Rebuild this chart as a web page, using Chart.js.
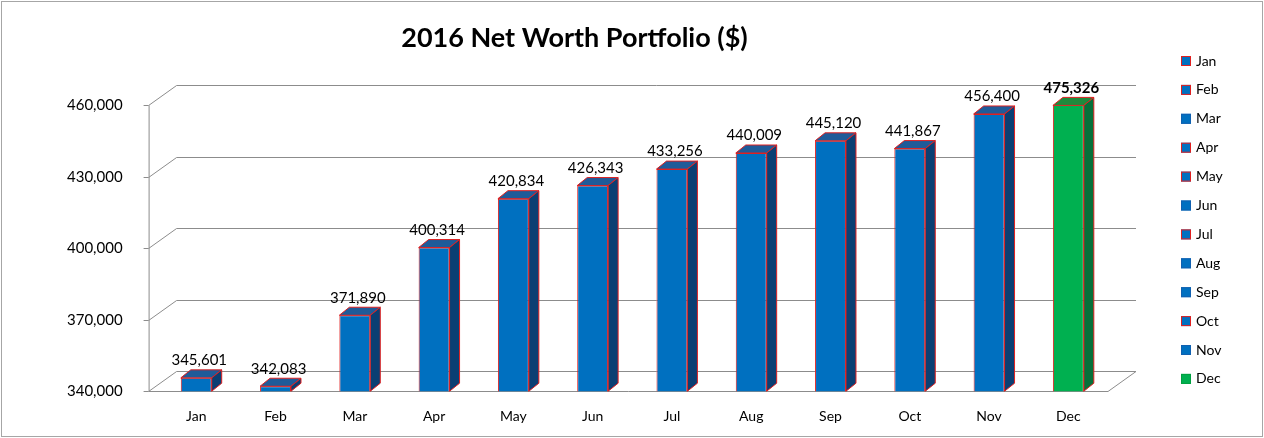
<!DOCTYPE html>
<html><head><meta charset="utf-8">
<script src="https://cdn.jsdelivr.net/npm/chart.js@4"></script>
<style>body{margin:0;background:#fff}#wrap{width:1264px;height:438px}</style>
</head><body><div id="wrap"><canvas id="myChart"></canvas></div>
<script>
var months = ['Jan','Feb','Mar','Apr','May','Jun','Jul','Aug','Sep','Oct','Nov','Dec'];
var netWorth = [345601,342083,371890,400314,420834,426343,433256,440009,445120,441867,456400,475326];
var yTicks = [340000,370000,400000,430000,460000];
var legendEdges = ['#e02020','#e02020','#1060b0','#e02020','#e02020','#1060b0','#e02020','#1060b0','#1060b0','#e02020','#1060b0','#00a040'];

var FONT = 'Lato, "Open Sans", sans-serif';
var DX = 10, DY = -8, BX = 28, BY = -20, AXOFF = 8;
function fill(i){ return i === 11 ? '#00b050' : '#0070c0'; }
function top3(i){ return i === 11 ? '#1e8a3c' : '#1f5b99'; }
function side3(i){ return i === 11 ? '#06703a' : '#0b3f73'; }

var threeD = {
    id: 'threeD',
    beforeDraw: function (chart) {
        var c = chart.ctx, a = chart.chartArea, y = chart.scales.y;
        var L = a.left - AXOFF;
        c.save();
        c.strokeStyle = '#a6a6a6'; c.lineWidth = 1;
        c.strokeRect(1.5, 1.5, chart.width - 3, chart.height - 3);
        c.strokeStyle = '#8c8c8c';
        yTicks.forEach(function (v) {
            var py = Math.round(y.getPixelForValue(v)) + 0.5;
            c.beginPath();
            c.moveTo(L, py); c.lineTo(L + BX, py + BY);
            c.lineTo(a.right + BX, py + BY);
            c.stroke();
        });
        var b = Math.round(a.bottom) + 0.5;
        c.beginPath();
        c.moveTo(L, b); c.lineTo(a.right, b); c.lineTo(a.right + BX, b + BY);
        c.stroke();
        c.beginPath();
        c.moveTo(L + 0.5, a.top); c.lineTo(L + 0.5, a.bottom);
        yTicks.forEach(function (v) {
            var py = Math.round(y.getPixelForValue(v)) + 0.5;
            c.moveTo(L - 5, py); c.lineTo(L, py);
        });
        c.stroke();
        c.restore();
    },
    afterDatasetsDraw: function (chart) {
        var c = chart.ctx, a = chart.chartArea;
        var meta = chart.getDatasetMeta(0);
        c.save();
        c.lineWidth = 1; c.strokeStyle = '#e02020';
        meta.data.forEach(function (bar, i) {
            var l = bar.x - bar.width / 2, r = bar.x + bar.width / 2;
            var t = Math.max(bar.y, a.top), b = a.bottom;
            c.fillStyle = top3(i);
            c.beginPath();
            c.moveTo(l, t); c.lineTo(l + DX, t + DY); c.lineTo(r + DX, t + DY); c.lineTo(r, t); c.closePath();
            c.fill(); c.stroke();
            c.fillStyle = side3(i);
            c.beginPath();
            c.moveTo(r, t); c.lineTo(r + DX, t + DY); c.lineTo(r + DX, b + DY); c.lineTo(r, b); c.closePath();
            c.fill(); c.stroke();
            c.fillStyle = '#000';
            c.font = (i === 11 ? 'bold ' : '') + '15px ' + FONT;
            c.textAlign = 'center'; c.textBaseline = 'bottom';
            c.fillText(netWorth[i].toLocaleString('en-US'), bar.x + 3, t - 10);
        });
        c.font = '14px ' + FONT; c.textAlign = 'left'; c.textBaseline = 'middle';
        months.forEach(function (m, i) {
            var ly = 61 + i * 28.9;
            c.fillStyle = fill(i); c.strokeStyle = legendEdges[i];
            c.fillRect(1181, ly - 5, 10, 10); c.strokeRect(1181.5, ly - 4.5, 9, 9);
            c.fillStyle = '#000';
            c.fillText(m, 1196, ly);
        });
        c.restore();
    }
};

new Chart(document.getElementById('myChart'), {
    type: 'bar',
    data: {
        labels: months,
        datasets: [{
            data: netWorth,
            backgroundColor: months.map(function (m, i) { return fill(i); }),
            borderColor: '#e02020',
            borderWidth: 1,
            borderSkipped: false,
            categoryPercentage: 1,
            barPercentage: 0.39
        }]
    },
    options: {
        responsive: true,
        maintainAspectRatio: false,
        animation: false,
        layout: { padding: { left: 41, right: 156, top: 0, bottom: 4 } },
        plugins: {
            legend: { display: false },
            tooltip: { enabled: false },
            title: {
                display: true,
                text: '2016 Net Worth Portfolio ($)',
                color: '#000',
                font: { family: FONT, size: 27, weight: 'bold' },
                padding: { top: 22, bottom: 51 }
            }
        },
        scales: {
            x: {
                grid: { display: false },
                border: { display: false },
                ticks: { color: '#000', padding: 9, font: { family: FONT, size: 14 } }
            },
            y: {
                min: 340000, max: 460000,
                afterBuildTicks: function (s) { s.ticks = yTicks.map(function (v) { return { value: v }; }); },
                grid: { display: false },
                border: { display: false },
                ticks: {
                    color: '#000', padding: 26, font: { family: FONT, size: 15 },
                    callback: function (v) { return v.toLocaleString('en-US'); }
                }
            }
        }
    },
    plugins: [threeD]
});
</script>
</body></html>
